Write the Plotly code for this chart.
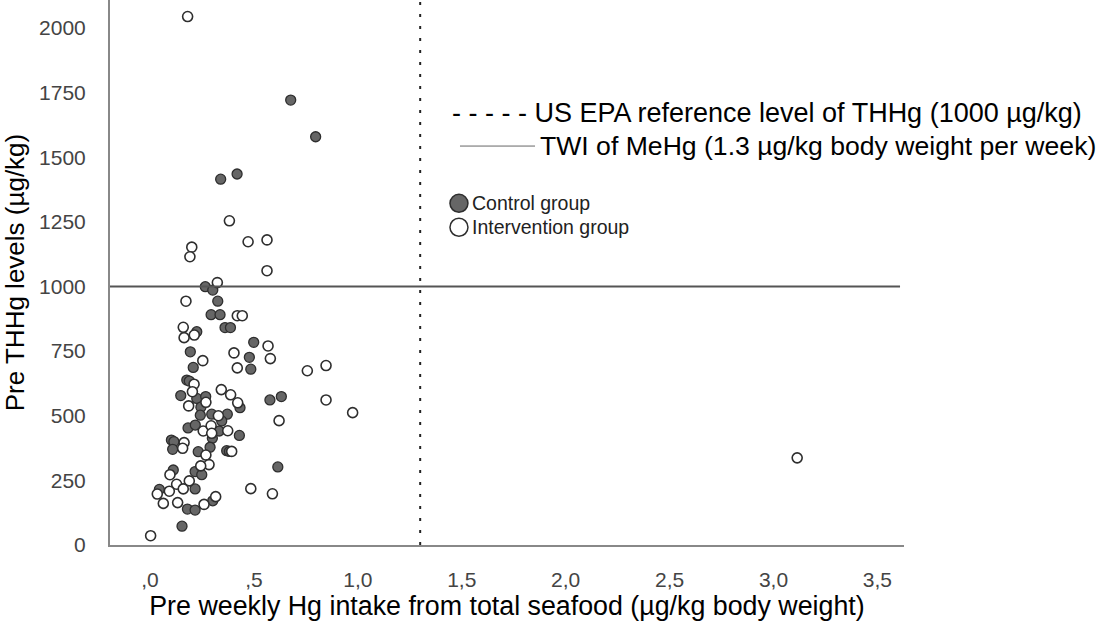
import plotly.graph_objects as go

# Control group (filled markers)
control_x = [0.677, 0.797, 0.340, 0.419, 0.266, 0.302, 0.326, 0.294, 0.337, 0.361,
             0.387, 0.225, 0.499, 0.194, 0.478, 0.208, 0.485, 0.177, 0.189, 0.148,
             0.225, 0.268, 0.433, 0.245, 0.577, 0.632, 0.242, 0.297, 0.372, 0.345,
             0.183, 0.218, 0.333, 0.430, 0.300, 0.103, 0.115, 0.109, 0.232, 0.289,
             0.369, 0.382, 0.615, 0.112, 0.217, 0.249, 0.217, 0.045, 0.180, 0.217,
             0.302, 0.154]
control_y = [1721, 1579, 1415, 1435, 999, 986, 943, 891, 891, 841,
             841, 825, 784, 747, 726, 687, 680, 638, 634, 578,
             567, 574, 531, 533, 561, 574, 502, 506, 506, 480,
             453, 464, 441, 424, 413, 406, 400, 370, 361, 378,
             365, 362, 302, 290, 284, 272, 217, 215, 139, 135,
             171, 73]

# Intervention group (open markers)
interv_x = [0.181, 0.382, 0.472, 0.563, 0.201, 0.192, 0.563, 0.324, 0.173, 0.420,
            0.444, 0.160, 0.213, 0.164, 0.568, 0.404, 0.579, 0.254, 0.420, 0.757,
            0.847, 0.212, 0.204, 0.269, 0.343, 0.388, 0.422, 0.186, 0.847, 0.975,
            0.329, 0.621, 0.256, 0.294, 0.297, 0.374, 0.164, 0.157, 0.269, 0.393,
            0.284, 0.096, 0.244, 0.128, 0.189, 0.160, 0.035, 0.093, 0.064, 0.133,
            0.485, 0.589, 0.260, 0.316, 0.003, 3.114]
interv_y = [2044, 1254, 1173, 1180, 1152, 1115, 1061, 1015, 943, 887,
            887, 842, 812, 802, 770, 743, 721, 713, 685, 674,
            694, 622, 593, 552, 601, 581, 550, 538, 561, 512,
            500, 481, 441, 461, 432, 442, 396, 374, 348, 362,
            311, 272, 306, 235, 248, 217, 197, 208, 161, 164,
            218, 198, 157, 187, 36, 337]

x_tickvals = [0, 0.5, 1.0, 1.5, 2.0, 2.5, 3.0, 3.5]
x_ticktext = [",0", ",5", "1,0", "1,5", "2,0", "2,5", "3,0", "3,5"]
y_tickvals = [0, 250, 500, 750, 1000, 1250, 1500, 1750, 2000]
y_ticktext = ["0", "250", "500", "750", "1000", "1250", "1500", "1750", "2000"]

group_names = ["Control group", "Intervention group"]
group_fill = ["#666666", "#ffffff"]

epa_level = 1000
twi_level = 1.3

FONT = "Liberation Sans, Arial, sans-serif"
OUTLINE = "#2e2e2e"

fig = go.Figure()
fig.add_trace(go.Scatter(
    x=control_x, y=control_y, mode="markers", name=group_names[0], showlegend=False,
    marker=dict(size=10, color=group_fill[0], line=dict(color=OUTLINE, width=1.3)),
))
fig.add_trace(go.Scatter(
    x=interv_x, y=interv_y, mode="markers", name=group_names[1], showlegend=False,
    marker=dict(size=10, color=group_fill[1], line=dict(color=OUTLINE, width=1.6)),
))

# reference lines
fig.add_shape(type="line", xref="paper", yref="y", x0=0, x1=0.995, y0=epa_level, y1=epa_level,
              line=dict(color="#555555", width=2))
fig.add_shape(type="line", xref="x", yref="paper", x0=twi_level, x1=twi_level, y0=0, y1=1,
              line=dict(color="#222222", width=2, dash="3px,9px"))

# legend-like text for reference lines
fig.add_annotation(xref="paper", yref="paper", x=0.4285, y=0.7927, xanchor="left", yanchor="middle",
                   text="- - - - - US EPA reference level of THHg (1000 µg/kg)", showarrow=False,
                   font=dict(family=FONT, size=27, color="#000000"))
fig.add_shape(type="line", xref="paper", yref="paper", x0=0.4408, x1=0.5353, y0=0.732, y1=0.732,
              line=dict(color="#666666", width=1))
fig.add_annotation(xref="paper", yref="paper", x=0.5385, y=0.732, xanchor="left", yanchor="middle",
                   text="TWI of MeHg (1.3 µg/kg body weight per week)", showarrow=False,
                   font=dict(family=FONT, size=26.6, color="#000000"))

# group key (circles + labels)
key_x = 0.4395
key_y = [0.627, 0.583]
for name, fill, ky in zip(group_names, group_fill, key_y):
    fig.add_shape(type="circle", xref="paper", yref="paper", xsizemode="pixel", ysizemode="pixel",
                  xanchor=key_x, yanchor=ky, x0=-9, x1=9, y0=-9, y1=9,
                  fillcolor=fill, line=dict(color=OUTLINE, width=1.5))
    fig.add_annotation(xref="paper", yref="paper", x=key_x + 0.0135, y=ky, xanchor="left",
                       yanchor="middle", text=name, showarrow=False,
                       font=dict(family=FONT, size=19.5, color="#222222"))

fig.update_layout(
    width=1102, height=623,
    margin=dict(l=110, r=198, t=0, b=78),
    paper_bgcolor="white", plot_bgcolor="white",
    font=dict(family=FONT, size=20, color="#000000"),
    showlegend=False,
    xaxis=dict(range=[-0.1925, 3.628], tickvals=x_tickvals, ticktext=x_ticktext,
               showgrid=False, zeroline=False, showline=True, linecolor="#888888", linewidth=2,
               ticks="", ticklabelstandoff=15, tickfont=dict(size=21, color="#444444"),
               title=dict(text="Pre weekly Hg intake from total seafood (µg/kg body weight)",
                          font=dict(size=26.8, color="#000000"), standoff=3)),
    yaxis=dict(range=[0, 2108], tickvals=y_tickvals, ticktext=y_ticktext,
               showgrid=False, zeroline=False, showline=True, linecolor="#888888", linewidth=2,
               ticks="", ticklabelstandoff=18, tickfont=dict(size=21, color="#444444"),
               title=dict(text="Pre THHg levels (µg/kg)", font=dict(size=26, color="#000000"),
                          standoff=12)),
)

fig.write_html("out.html")
